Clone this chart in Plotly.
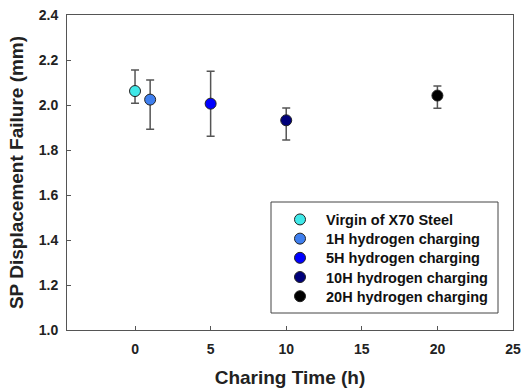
import plotly.graph_objects as go

labels = ["Virgin of X70 Steel", "1H hydrogen charging", "5H hydrogen charging",
          "10H hydrogen charging", "20H hydrogen charging"]
hours = [0, 1, 5, 10, 20]
disp = [2.062, 2.024, 2.006, 1.932, 2.042]
err_plus = [0.094, 0.087, 0.144, 0.055, 0.042]
err_minus = [0.054, 0.132, 0.145, 0.088, 0.057]
colors = ["#40E8E8", "#3F7FEF", "#0000FF", "#00007A", "#000000"]

# plot area in pixels: x 67..513, y 15..330
def px_x(p):
    return (p - 67) / 446

def px_y(p):
    return (330 - p) / 315

fig = go.Figure()
legend_layout = {}
for i in range(len(labels)):
    lname = "legend" if i == 0 else "legend%d" % (i + 1)
    fig.add_trace(go.Scatter(
        x=[hours[i]], y=[disp[i]], mode="markers", name="<b>" + labels[i] + "</b>",
        legend=lname,
        marker=dict(size=11, color=colors[i], line=dict(color="#222222", width=1)),
        error_y=dict(type="data", symmetric=False, array=[err_plus[i]],
                     arrayminus=[err_minus[i]], color="#555555", thickness=1.5, width=4),
    ))
    legend_layout[lname] = dict(
        x=px_x(274), y=px_y(219.5 + 19.2 * i), xanchor="left", yanchor="middle",
        borderwidth=0, bgcolor="rgba(0,0,0,0)", itemwidth=42,
        font=dict(family="Liberation Sans", size=14.5, color="#111111"))

# legend frame
fig.add_shape(type="rect", xref="paper", yref="paper",
              x0=px_x(271), x1=px_x(498), y0=px_y(313), y1=px_y(202),
              line=dict(color="#444444", width=1), fillcolor="rgba(0,0,0,0)")

fig.update_layout(
    width=523, height=391,
    margin=dict(l=67, r=10, t=15, b=61),
    paper_bgcolor="white", plot_bgcolor="white",
    showlegend=True,
    xaxis=dict(range=[-4.5, 25], tickvals=[0, 5, 10, 15, 20, 25],
               ticks="inside", ticklen=4, tickcolor="#555555",
               showline=True, linecolor="#555555", linewidth=1, mirror=True,
               showgrid=False, zeroline=False, ticklabelstandoff=6, automargin=False,
               tickfont=dict(family="Liberation Sans", size=14, color="#222222", weight="bold"),
               title=dict(text="<b>Charing Time (h)</b>",
                          font=dict(family="Liberation Sans", size=19, color="#222222"),
                          standoff=14)),
    yaxis=dict(range=[1.0, 2.4], tickvals=[1.0, 1.2, 1.4, 1.6, 1.8, 2.0, 2.2, 2.4],
               tickformat=".1f",
               ticks="inside", ticklen=4, tickcolor="#555555",
               showline=True, linecolor="#555555", linewidth=1, mirror=True,
               showgrid=False, zeroline=False, ticklabelstandoff=5, automargin=False,
               tickfont=dict(family="Liberation Sans", size=14, color="#222222", weight="bold"),
               title=dict(text="<b>SP Displacement Failure (mm)</b>",
                          font=dict(family="Liberation Sans", size=19, color="#222222"),
                          standoff=10)),
    **legend_layout,
)

fig.write_html("out.html")
